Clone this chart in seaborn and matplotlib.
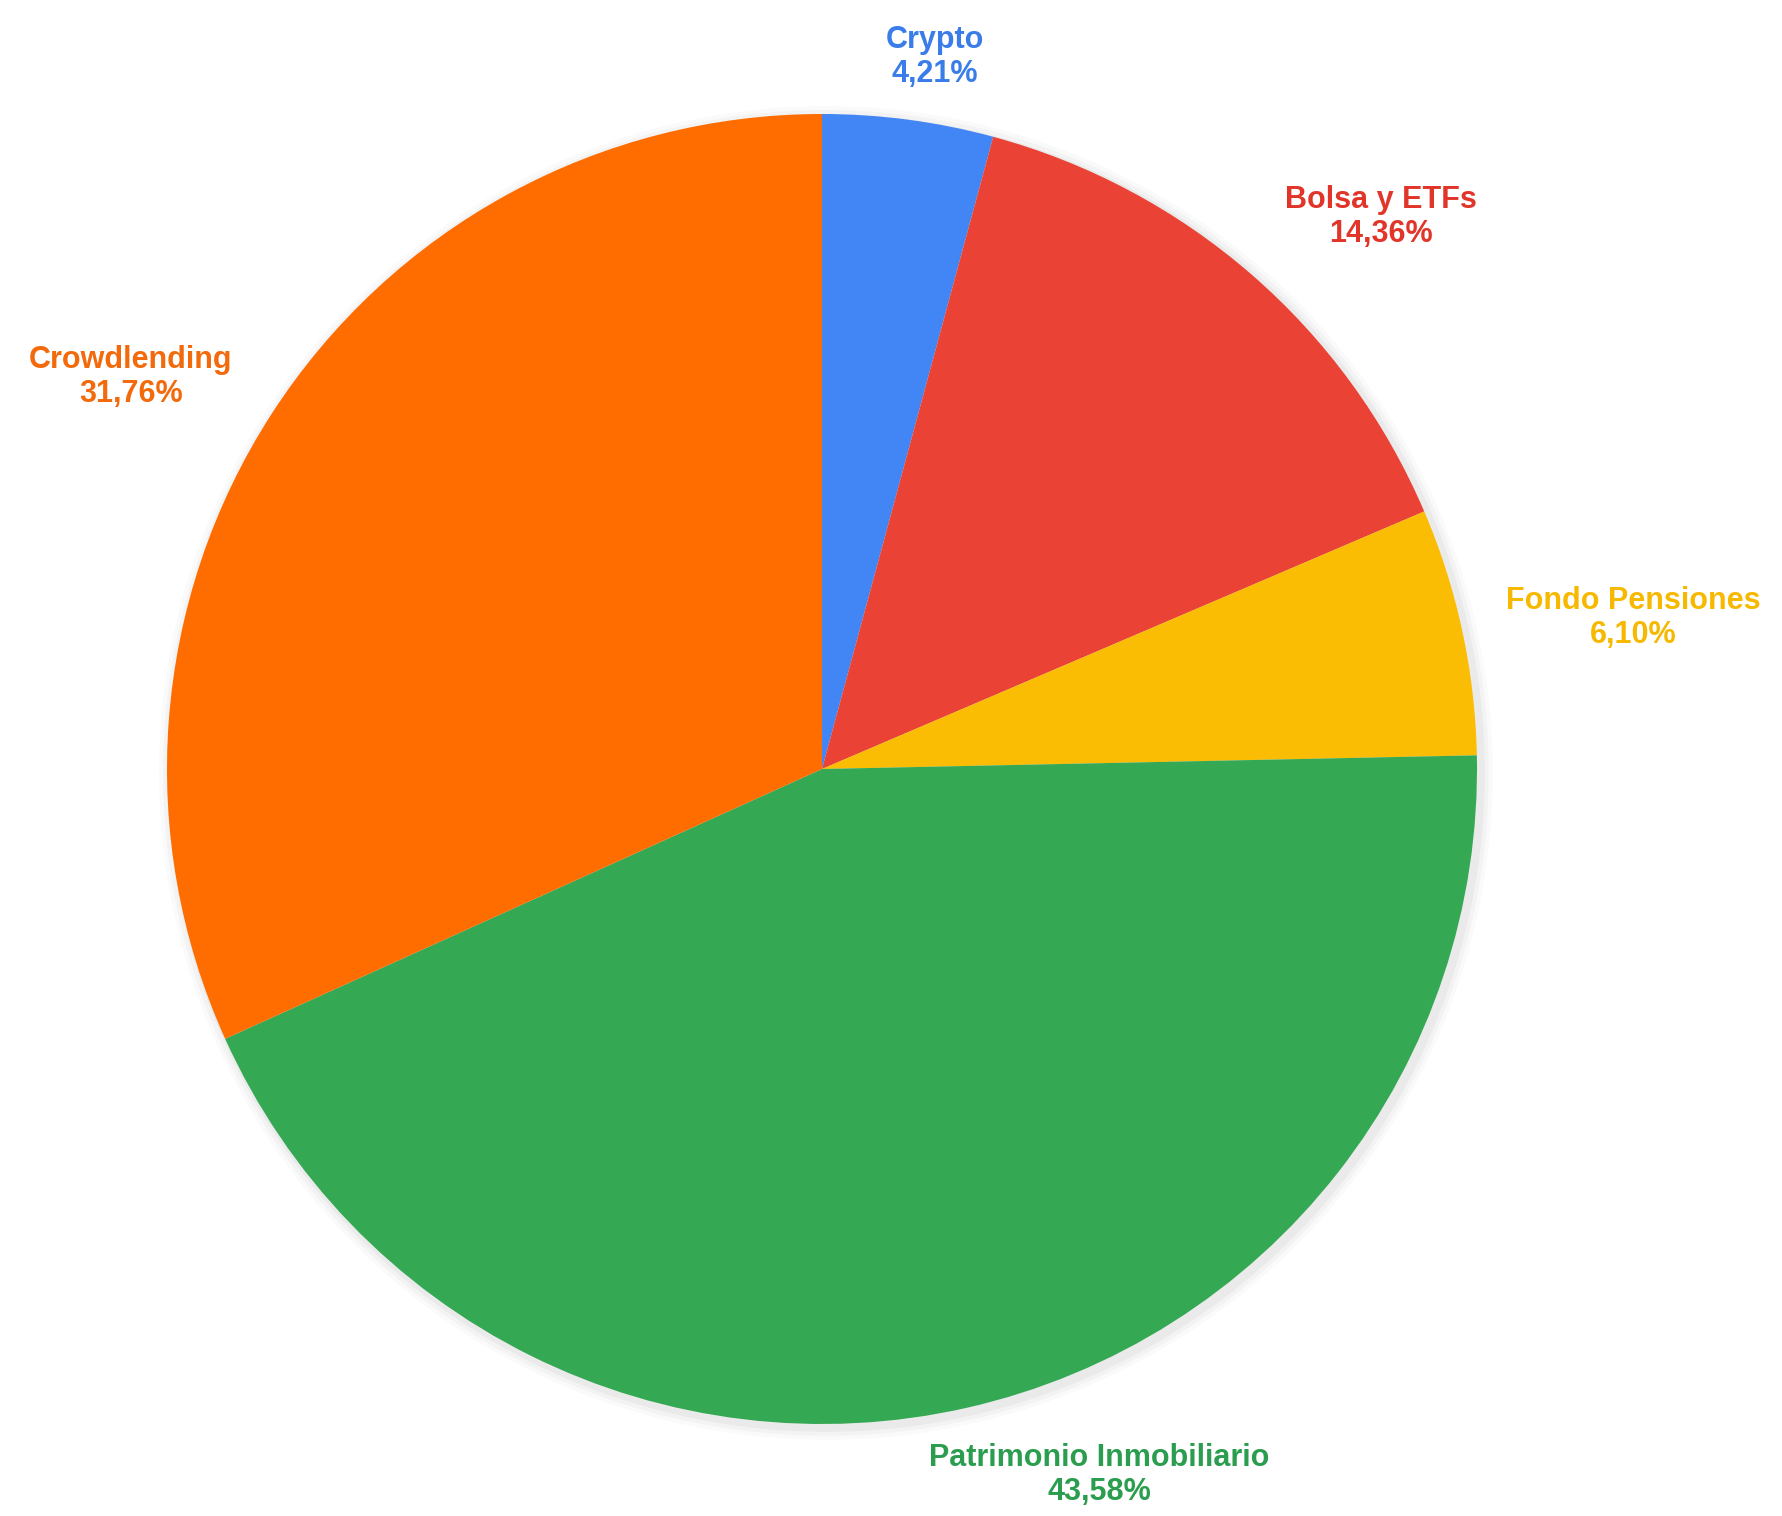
import matplotlib
matplotlib.use("Agg")
import matplotlib.pyplot as plt
import seaborn as sns
from matplotlib.patches import Circle

categories = ["Crypto", "Bolsa y ETFs", "Fondo Pensiones", "Patrimonio Inmobiliario", "Crowdlending"]
values = [4.21, 14.36, 6.10, 43.58, 31.76]
pct_labels = ["4,21%", "14,36%", "6,10%", "43,58%", "31,76%"]

wedge_colors = ["#4285F4", "#EA4335", "#FBBC04", "#34A853", "#FF6D01"]
text_colors = ["#3A7DE8", "#E2352A", "#F7B900", "#2A9D4E", "#F26A0C"]

sns.set_theme(style="white")
plt.rcParams['font.family'] = ['Liberation Sans', 'DejaVu Sans']

W, H, DPI = 1782, 1516, 100
cx, cy, R = 822, 769, 655  # pixel layout of pie (from top-left)

fig = plt.figure(figsize=(W / DPI, H / DPI), dpi=DPI)
ax = fig.add_axes([0, 0, 1, 1])

# soft shadow
for r, a in [(1.018, 0.04), (1.012, 0.05), (1.006, 0.07)]:
    ax.add_patch(Circle((0.006, -0.006), r, color="#808080", alpha=a, lw=0, zorder=0))

wedges, _ = ax.pie(values, colors=wedge_colors, startangle=90, counterclock=False,
                   radius=1.0, wedgeprops=dict(linewidth=0))
for w in wedges:
    w.set_zorder(2)

# label layout (pixel centers, top-left origin)
label_px = [(935, 57), (1381, 217), (1633, 618), (1099, 1475), (131, 377)]
for cat, pct, col, (px, py) in zip(categories, pct_labels, text_colors, label_px):
    ax.text((px - cx) / R, (cy - py) / R, f"{cat}\n{pct}", ha="center", va="center",
            fontsize=22, fontweight="bold", color=col, linespacing=1.2, zorder=5)

ax.set_xlim(-cx / R, (W - cx) / R)
ax.set_ylim(-(H - cy) / R, cy / R)
ax.set_aspect("auto")
ax.axis("off")
fig.savefig("out.png", dpi=DPI, facecolor="white")
